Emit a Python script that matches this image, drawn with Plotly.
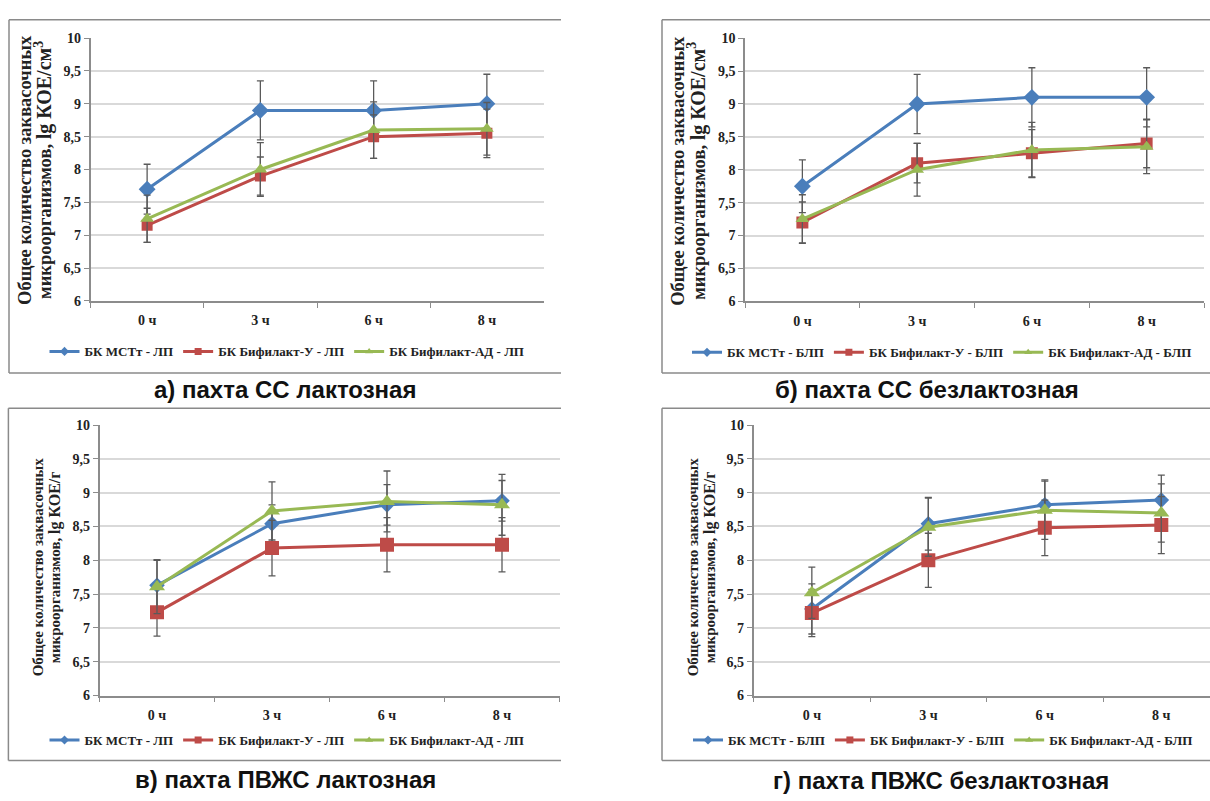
import plotly.graph_objects as go

# ---------------- data ----------------
TIME = ["0 ч", "3 ч", "6 ч", "8 ч"]

# а) пахта СС лактозная
A_MST = [7.70, 8.90, 8.90, 9.00]
A_MST_ERR = [0.38, 0.45, 0.45, 0.45]
A_U = [7.15, 7.90, 8.50, 8.55]
A_U_ERR = [0.26, 0.29, 0.33, 0.37]
A_AD = [7.25, 8.00, 8.60, 8.62]
A_AD_ERR = [0.36, 0.41, 0.43, 0.40]

# б) пахта СС безлактозная
B_MST = [7.75, 9.00, 9.10, 9.10]
B_MST_ERR = [0.40, 0.45, 0.45, 0.45]
B_U = [7.20, 8.10, 8.25, 8.40]
B_U_ERR = [0.31, 0.30, 0.36, 0.37]
B_AD = [7.25, 8.00, 8.30, 8.35]
B_AD_ERR = [0.37, 0.40, 0.42, 0.41]

# в) пахта ПВЖС лактозная
C_MST = [7.63, 8.54, 8.82, 8.88]
C_MST_ERR = [0.37, 0.28, 0.30, 0.30]
C_U = [7.23, 8.18, 8.23, 8.23]
C_U_ERR = [0.35, 0.41, 0.40, 0.40]
C_AD = [7.61, 8.73, 8.87, 8.82]
C_AD_ERR = [0.40, 0.43, 0.45, 0.45]

# г) пахта ПВЖС безлактозная
D_MST = [7.28, 8.54, 8.82, 8.89]
D_MST_ERR = [0.37, 0.39, 0.37, 0.37]
D_U = [7.22, 8.00, 8.48, 8.52]
D_U_ERR = [0.35, 0.40, 0.41, 0.42]
D_AD = [7.52, 8.49, 8.74, 8.70]
D_AD_ERR = [0.38, 0.43, 0.43, 0.43]

NAMES_LP = ["БК МСТт - ЛП", "БК Бифилакт-У - ЛП", "БК Бифилакт-АД - ЛП"]
NAMES_BLP = ["БК МСТт - БЛП", "БК Бифилакт-У - БЛП", "БК Бифилакт-АД - БЛП"]
CAPTIONS = ["а) пахта СС лактозная", "б) пахта СС безлактозная",
            "в) пахта ПВЖС лактозная", "г) пахта ПВЖС безлактозная"]
YTITLE1 = "Общее количество заквасочных"
YTITLE2_CM = "микроорганизмов, <span style='font-size:20px'>lg КОЕ/см<sup>3</sup></span>"
YTITLE2_G = "микроорганизмов, <span style='font-size:16px'>lg КОЕ/г</span>"

# ---------------- styling ----------------
W, H = 1210, 801
SERIF = "Liberation Serif"
SANS = "Liberation Sans"
COLORS = ["#4A7EBB", "#BE4B48", "#98B954"]
SYMBOLS = ["diamond", "square", "triangle-up"]
GRID = "#D9D9D9"
AXIS = "#8C8C8C"
ERRC = "#5A5A5A"


def px(x):
    return x / W


def py(y):
    return 1 - y / H


panels = [
    dict(series=[(A_MST, A_MST_ERR), (A_U, A_U_ERR), (A_AD, A_AD_ERR)], names=NAMES_LP,
         xd=(90.5, 543.5), yd=(31.7, 299.5), xr=[-0.5, 3.5], msize=[13, 11, 12],
         legend_xy=(287, 351), caption_xy=(285, 390),
         yt=(25, 44, 166, 18.5, YTITLE2_CM), tick=14,
         box=(9, 13, 373, 561)),
    dict(series=[(B_MST, B_MST_ERR), (B_U, B_U_ERR), (B_AD, B_AD_ERR)], names=NAMES_BLP,
         xd=(745, 1204), yd=(31.7, 300), xr=[-0.5, 3.5], msize=[13, 12, 12],
         legend_xy=(942, 352), caption_xy=(927, 390),
         yt=(678, 697, 167, 18.5, YTITLE2_CM), tick=14,
         box=(662, 13, 373, 1210)),
    dict(series=[(C_MST, C_MST_ERR), (C_U, C_U_ERR), (C_AD, C_AD_ERR)], names=NAMES_LP,
         xd=(99.5, 559.5), yd=(426, 701.7), xr=[-0.5, 3.5], msize=[12, 14, 14],
         legend_xy=(287, 747), caption_xy=(285, 787),
         yt=(38, 55, 571, 15, YTITLE2_G), tick=14,
         box=(8.4, 409, 768, 561)),
    dict(series=[(D_MST, D_MST_ERR), (D_U, D_U_ERR), (D_AD, D_AD_ERR)], names=NAMES_BLP,
         xd=(753.6, 1210), yd=(426, 701.7), xr=[-0.5, 3.418], msize=[12, 14, 14],
         legend_xy=(943, 747), caption_xy=(941, 788),
         yt=(693, 710, 571, 15, YTITLE2_G), tick=14,
         box=(662, 409, 768, 1210)),
]

fig = go.Figure()
annotations = []
shapes = []
layout_axes = {}

for i, p in enumerate(panels):
    n = "" if i == 0 else str(i + 1)
    xa, ya = "x" + n, "y" + n
    leg = "legend" + n
    for k, (vals, errs) in enumerate(p["series"]):
        fig.add_trace(go.Scatter(
            x=TIME, y=vals, xaxis=xa, yaxis=ya, mode="lines+markers",
            line=dict(color=COLORS[k], width=3),
            marker=dict(symbol=SYMBOLS[k], size=p["msize"][k], color=COLORS[k]),
            error_y=dict(type="data", array=errs, visible=True, color=ERRC,
                         thickness=1.3, width=3.5),
            showlegend=False, hoverinfo="x+y"))
    # legend entries (small legend markers as in the original)
    for k in range(3):
        fig.add_trace(go.Scatter(
            x=[None], y=[None], xaxis=xa, yaxis=ya, mode="lines+markers",
            name=p["names"][k], legend=leg,
            line=dict(color=COLORS[k], width=3),
            marker=dict(symbol=SYMBOLS[k], size=7, color=COLORS[k])))

    layout_axes["xaxis" + n] = dict(
        domain=[px(p["xd"][0]), px(p["xd"][1])], anchor=ya,
        type="category", categoryorder="array", categoryarray=TIME,
        range=p["xr"], showgrid=False, showline=True, linecolor=AXIS, linewidth=1.5,
        ticks="outside", tickson="boundaries", ticklen=5, tickcolor=AXIS,
        tickfont=dict(family=SERIF, size=14, color="#222", weight="bold"),
        ticklabelstandoff=6, zeroline=False, fixedrange=True)
    layout_axes["yaxis" + n] = dict(
        domain=[py(p["yd"][1]), py(p["yd"][0])], anchor=xa,
        range=[6, 10], dtick=0.5, tick0=6, showgrid=True, gridcolor=GRID, gridwidth=2,
        showline=True, linecolor=AXIS, linewidth=1.5, ticks="outside", ticklen=5,
        tickcolor=AXIS, zeroline=False,
        tickfont=dict(family=SERIF, size=p["tick"], color="#222", weight="bold"),
        fixedrange=True)
    layout_axes[leg] = dict(
        orientation="h", x=px(p["legend_xy"][0]), y=py(p["legend_xy"][1]),
        xanchor="center", yanchor="middle", bgcolor="rgba(0,0,0,0)",
        font=dict(family=SERIF, size=13, color="#222", weight="bold"),
        itemwidth=30, tracegroupgap=0)

    # y-axis titles (two lines)
    x1, x2, yc, fs, t2 = p["yt"]
    annotations.append(dict(text=YTITLE1, x=px(x1), y=py(yc), xref="paper", yref="paper",
                            textangle=-90, showarrow=False, xanchor="center", yanchor="middle",
                            font=dict(family=SERIF, size=fs, color="#222", weight="bold")))
    annotations.append(dict(text=t2, x=px(x2), y=py(yc), xref="paper", yref="paper",
                            textangle=-90, showarrow=False, xanchor="center", yanchor="middle",
                            font=dict(family=SERIF, size=fs, color="#222", weight="bold")))
    # caption
    annotations.append(dict(text=CAPTIONS[i], x=px(p["caption_xy"][0]), y=py(p["caption_xy"][1]),
                            xref="paper", yref="paper", showarrow=False,
                            xanchor="center", yanchor="middle",
                            font=dict(family=SANS, size=24, color="#111", weight="bold")))
    # chart-area frame
    bx0, by0, by1, bx1 = p["box"]
    for (xa0, ya0, xa1, ya1) in [(bx0, by0, bx1, by0), (bx0, by1, bx1, by1), (bx0, by0, bx0, by1)]:
        shapes.append(dict(type="line", xref="paper", yref="paper",
                           x0=px(xa0), y0=py(ya0), x1=px(xa1), y1=py(ya1),
                           line=dict(color="#8A8A8A", width=1.5)))

fig.update_layout(
    width=W, height=H, margin=dict(l=0, r=0, t=0, b=0),
    paper_bgcolor="white", plot_bgcolor="white",
    separators=", ", annotations=annotations, shapes=shapes,
    showlegend=True, **layout_axes)

fig.write_html("out.html", config={"displayModeBar": False},
               post_script="document.body.style.margin='0';document.body.style.overflow='hidden';")
